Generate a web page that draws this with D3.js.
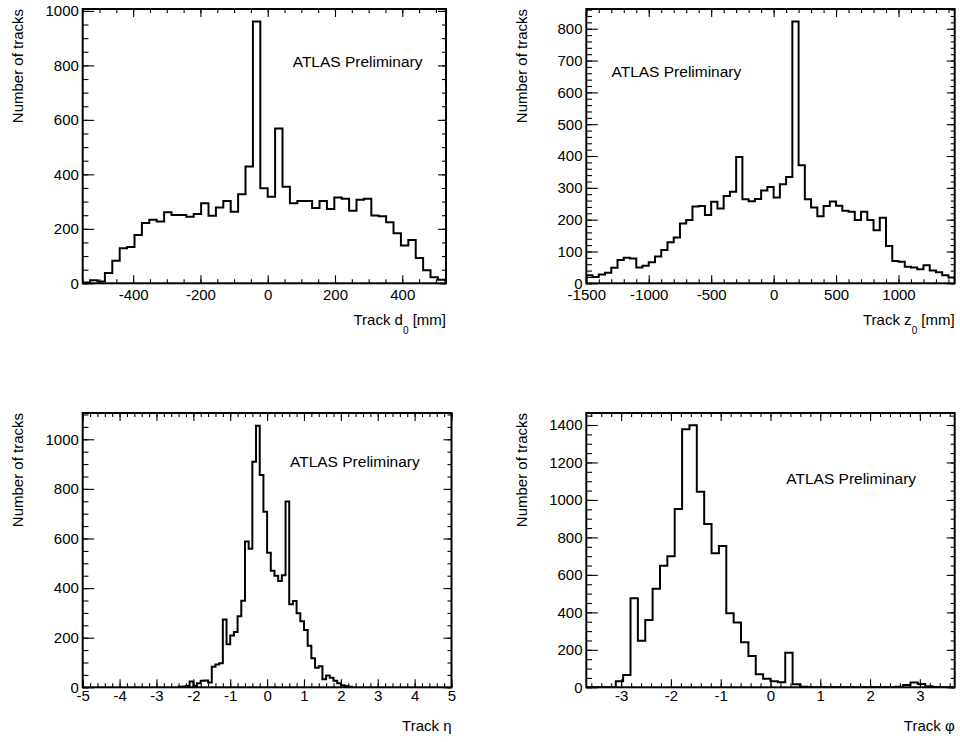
<!DOCTYPE html>
<html>
<head>
<meta charset="utf-8">
<script src="https://cdn.jsdelivr.net/npm/d3@7"></script>
<style>
  body { margin: 0; background: #fff; }
  svg { display: block; font-family: "Liberation Sans", Helvetica, Arial, sans-serif; }
</style>
</head>
<body>
<div id="chart"></div>
<script>
// bin contents
const d0Start = -550, d0Width = 22;
const d0Counts = [3, 11, 7, 38, 83, 129, 133, 177, 221, 233, 227, 261, 251, 251, 244, 254, 294, 248, 278, 302,
  263, 327, 429, 961, 349, 318, 568, 354, 294, 302, 302, 276, 302, 273, 315, 310, 266, 307, 310, 249,
  246, 224, 184, 139, 159, 93, 48, 22, 13, 7];

const z0Start = -1500, z0Width = 50;
const z0Counts = [25, 20, 28, 33, 49, 73, 80, 78, 50, 55, 66, 84, 105, 129, 144, 188, 199, 241, 243, 215,
  256, 235, 274, 288, 397, 264, 258, 265, 292, 303, 270, 311, 334, 823, 371, 264, 238, 211, 243, 257,
  244, 228, 225, 199, 225, 199, 167, 206, 117, 70, 68, 52, 50, 44, 57, 40, 35, 25, 18];

const etaStart = -2.4, etaWidth = 0.1;
const etaCounts = [2, 3, 5, 23, 5, 16, 26, 27, 19, 83, 92, 97, 273, 174, 209, 223, 286, 349, 588, 559,
  909, 1055, 856, 708, 543, 470, 450, 429, 452, 749, 335, 348, 299, 266, 231, 168, 117, 79, 85, 32,
  48, 39, 26, 16, 8, 5, 2];

const phiStart = -3.7, phiWidth = 0.148;
const phiCounts = [0, 0, 0, 0, 32, 65, 475, 249, 359, 526, 649, 700, 952, 1377, 1399, 1044, 872, 716, 754, 395,
  346, 240, 167, 69, 46, 32, 27, 185, 16, 3, 0, 0, 0, 0, 0, 0, 0, 0, 0, 0,
  0, 0, 3, 12, 25, 18, 5, 2, 0, 0];

// axis tick labels
const d0Ticks = [-400, -200, 0, 200, 400];
const z0Ticks = [-1500, -1000, -500, 0, 500, 1000];
const etaTicks = [-5, -4, -3, -2, -1, 0, 1, 2, 3, 4, 5];
const phiTicks = [-3, -2, -1, 0, 1, 2, 3];
const d0YTicks = [0, 200, 400, 600, 800, 1000];
const z0YTicks = [0, 100, 200, 300, 400, 500, 600, 700, 800];
const etaYTicks = [0, 200, 400, 600, 800, 1000];
const phiYTicks = [0, 200, 400, 600, 800, 1000, 1200, 1400];

const width = 960;
const height = 742;

const svg = d3.select('#chart')
  .append('svg')
  .attr('width', width)
  .attr('height', height);

const panels = [
  { id: 'd0', box: [82.7, 9, 446, 283.3], xDomain: [-550, 530], yMax: 1007,
    start: d0Start, binW: d0Width, counts: d0Counts,
    xMajor: d0Ticks, xMinor: d3.range(-550, 531, 50), yMajor: d0YTicks, yMinor: d3.range(0, 1001, 50),
    xPad: 6, yTitleX: 23.3, xTitleY: 324.5, title: ['Track d', '0', ' [mm]'], atlas: [292.7, 66.5] },
  { id: 'z0', box: [586.3, 9, 954.7, 283.3], xDomain: [-1500, 1450], yMax: 862,
    start: z0Start, binW: z0Width, counts: z0Counts,
    xMajor: z0Ticks, xMinor: d3.range(-1500, 1451, 100), yMajor: z0YTicks, yMinor: d3.range(0, 861, 20),
    xPad: 6, yTitleX: 526.5, xTitleY: 324.5, title: ['Track z', '0', ' [mm]'], atlas: [611.5, 77] },
  { id: 'eta', box: [82.7, 413, 451.5, 687.3], xDomain: [-5, 5], yMax: 1106,
    start: etaStart, binW: etaWidth, counts: etaCounts,
    xMajor: etaTicks, xMinor: d3.range(-50, 51, 2).map(d => d / 10), yMajor: etaYTicks, yMinor: d3.range(0, 1101, 50),
    xPad: 3.5, yTitleX: 23.3, xTitleY: 731, title: ['Track η'], atlas: [290, 467] },
  { id: 'phi', box: [586.3, 413, 954.7, 687.3], xDomain: [-3.7, 3.7], yMax: 1464,
    start: phiStart, binW: phiWidth, counts: phiCounts,
    xMajor: phiTicks, xMinor: d3.range(-36, 37, 2).map(d => d / 10), yMajor: phiYTicks, yMinor: d3.range(0, 1451, 50),
    xPad: 3.5, yTitleX: 526.5, xTitleY: 731, title: ['Track φ'], atlas: [786.3, 484] }
];

function styleAxis(g) {
  g.select('.domain').remove();
  g.attr('font-family', null).attr('font-size', 15);
  g.selectAll('line').attr('stroke', '#000').attr('stroke-width', 1.1);
  g.selectAll('text').attr('fill', '#000');
}

panels.forEach(p => {
  const [x0, y0, x1, y1] = p.box;
  const x = d3.scaleLinear().domain(p.xDomain).range([x0, x1]);
  const y = d3.scaleLinear().domain([0, p.yMax]).range([y1, y0]);
  const g = svg.append('g').attr('id', 'panel-' + p.id);

  g.append('clipPath')
    .attr('id', 'clip-' + p.id)
    .append('rect')
    .attr('x', x0).attr('y', y0)
    .attr('width', x1 - x0).attr('height', y1 - y0);

  // histogram outline as steps
  const n = p.counts.length;
  const pts = [[p.start, 0]];
  p.counts.forEach((c, i) => pts.push([p.start + i * p.binW, c]));
  pts.push([p.start + n * p.binW, p.counts[n - 1]]);
  pts.push([p.start + n * p.binW, 0]);

  const line = d3.line()
    .x(d => x(d[0]))
    .y(d => y(d[1]))
    .curve(d3.curveStepAfter);

  g.append('path')
    .datum(pts)
    .attr('clip-path', `url(#clip-${p.id})`)
    .attr('d', line)
    .attr('fill', 'none')
    .attr('stroke', '#000')
    .attr('stroke-width', 2);

  // ticks on all four sides, pointing inside
  g.append('g').attr('transform', `translate(0, ${y1})`)
    .call(d3.axisBottom(x).tickValues(p.xMinor).tickSize(-4).tickFormat(''))
    .call(styleAxis);
  g.append('g').attr('transform', `translate(0, ${y1})`)
    .call(d3.axisBottom(x).tickValues(p.xMajor).tickSize(-8).tickPadding(p.xPad).tickFormat(d => String(d)))
    .call(styleAxis);
  g.append('g').attr('transform', `translate(0, ${y0})`)
    .call(d3.axisTop(x).tickValues(p.xMinor).tickSize(-4).tickFormat(''))
    .call(styleAxis);
  g.append('g').attr('transform', `translate(0, ${y0})`)
    .call(d3.axisTop(x).tickValues(p.xMajor).tickSize(-8).tickFormat(''))
    .call(styleAxis);

  g.append('g').attr('transform', `translate(${x0}, 0)`)
    .call(d3.axisLeft(y).tickValues(p.yMinor).tickSize(-5.7).tickFormat(''))
    .call(styleAxis);
  g.append('g').attr('transform', `translate(${x0}, 0)`)
    .call(d3.axisLeft(y).tickValues(p.yMajor).tickSize(-11.5).tickPadding(3.8).tickFormat(d => String(d)))
    .call(styleAxis);
  g.append('g').attr('transform', `translate(${x1}, 0)`)
    .call(d3.axisRight(y).tickValues(p.yMinor).tickSize(-4).tickFormat(''))
    .call(styleAxis);
  g.append('g').attr('transform', `translate(${x1}, 0)`)
    .call(d3.axisRight(y).tickValues(p.yMajor).tickSize(-8).tickFormat(''))
    .call(styleAxis);

  // frame
  g.append('rect')
    .attr('x', x0).attr('y', y0)
    .attr('width', x1 - x0).attr('height', y1 - y0)
    .attr('fill', 'none')
    .attr('stroke', '#000')
    .attr('stroke-width', 2);

  // y title
  g.append('text')
    .attr('transform', `translate(${p.yTitleX}, ${y0}) rotate(-90)`)
    .attr('text-anchor', 'end')
    .attr('font-size', 15)
    .text('Number of tracks');

  // x title, with subscript when needed
  const xt = g.append('text')
    .attr('x', x1)
    .attr('y', p.xTitleY)
    .attr('text-anchor', 'end')
    .attr('font-size', 15);
  xt.append('tspan').text(p.title[0]);
  if (p.title.length > 1) {
    xt.append('tspan').attr('dy', 9).attr('font-size', 10).text(p.title[1]);
    xt.append('tspan').attr('dy', -9).text(p.title[2]);
  }

  g.append('text')
    .attr('x', p.atlas[0])
    .attr('y', p.atlas[1])
    .attr('font-size', 15.5)
    .text('ATLAS Preliminary');
});
</script>
</body>
</html>
